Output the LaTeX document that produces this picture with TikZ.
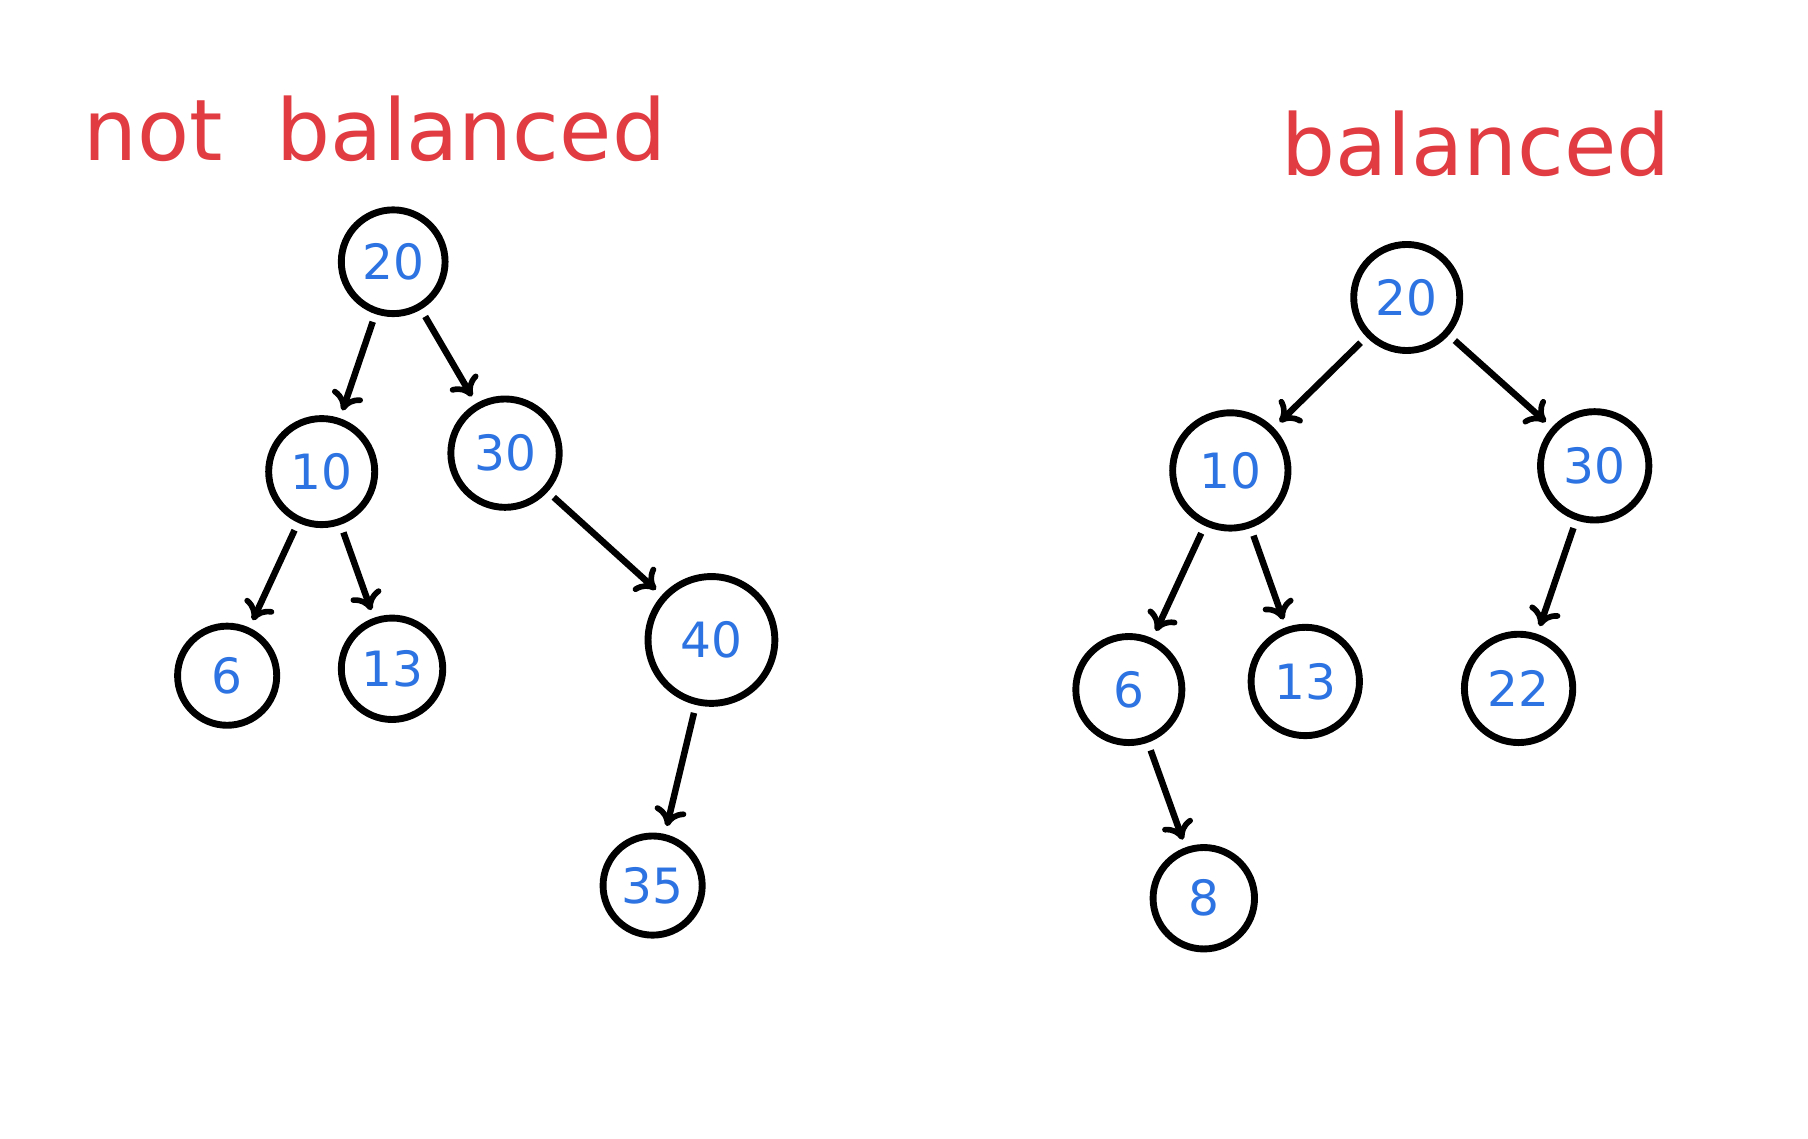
\documentclass[tikz,border=0pt]{standalone}
\usepackage{fontspec}
\setmainfont{DejaVu Sans}
\usetikzlibrary{arrows.meta}
\definecolor{nb}{RGB}{45,115,225}
\definecolor{tr}{RGB}{225,60,65}
\begin{document}
\begin{tikzpicture}[x=0.02cm,y=-0.02cm,
  nd/.style={circle,draw=black,line width=3.4pt,inner sep=0pt,text=nb,font=\fontsize{24}{24}\selectfont},
  ed/.style={line width=3.2pt,-{To[length=9pt,width=16pt,line width=2.8pt]},shorten >=4pt,shorten <=4pt},
  ttl/.style={text=tr,font=\fontsize{42}{42}\selectfont}]
\fill[white] (0,0) rectangle (1568,987);
\node[ttl] (t1) at (325,112) {not\ \ balanced};
\node[ttl] (t2) at (1280,125) {balanced};
% left tree
\node[nd,minimum size=1.80cm] (l20) at (341,227) {20};
\node[nd,minimum size=1.84cm] (l10) at (279,409) {10};
\node[nd,minimum size=1.88cm] (l30) at (438,393) {30};
\node[nd,minimum size=1.72cm] (l6) at (197,586) {6};
\node[nd,minimum size=1.76cm] (l13) at (340,580) {13};
\node[nd,minimum size=2.20cm] (l40) at (617,555) {40};
\node[nd,minimum size=1.72cm] (l35) at (566,768) {35};
\draw[ed] (l20) -- (l10);
\draw[ed] (l20) -- (l30);
\draw[ed] (l10) -- (l6);
\draw[ed] (l10) -- (l13);
\draw[ed] (l30) -- (l40);
\draw[ed] (l40) -- (l35);
% right tree
\node[nd,minimum size=1.84cm] (r20) at (1220,258) {20};
\node[nd,minimum size=2.00cm] (r10) at (1067,408) {10};
\node[nd,minimum size=1.88cm] (r30) at (1383,404) {30};
\node[nd,minimum size=1.84cm] (r6) at (979,598) {6};
\node[nd,minimum size=1.88cm] (r13) at (1132,591) {13};
\node[nd,minimum size=1.88cm] (r22) at (1317,597) {22};
\node[nd,minimum size=1.76cm] (r8) at (1044,779) {8};
\draw[ed] (r20) -- (r10);
\draw[ed] (r20) -- (r30);
\draw[ed] (r10) -- (r6);
\draw[ed] (r10) -- (r13);
\draw[ed] (r30) -- (r22);
\draw[ed] (r6) -- (r8);
\end{tikzpicture}
\end{document}
